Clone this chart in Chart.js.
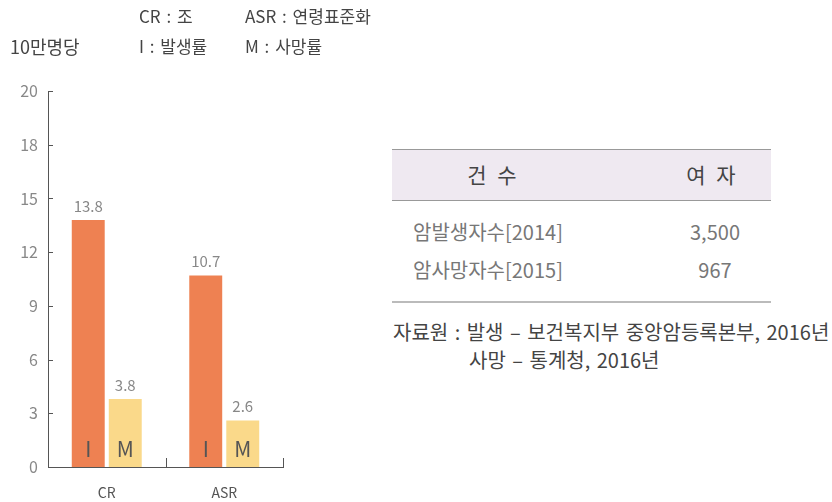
<!DOCTYPE html>
<html>
<head>
<meta charset="utf-8">
<script src="https://cdn.jsdelivr.net/npm/chart.js@4.4.0/dist/chart.umd.min.js"></script>
<style>
  body { margin: 0; background: #fff; font-family: "Noto Sans CJK KR", sans-serif; }
  #wrap { position: relative; width: 832px; height: 502px; overflow: hidden; }
  .t { position: absolute; white-space: nowrap; line-height: 1; }
  .hdr { position: absolute; left: 392px; top: 149px; width: 379px; height: 50px;
         background: #efe9f1; border-top: 1px solid #999; border-bottom: 1px solid #999; }
  .bot { position: absolute; left: 392px; top: 301px; width: 379px; height: 0; border-top: 2px solid #bbb; }
</style>
</head>
<body>
<div id="wrap">
  <canvas id="chart" width="300" height="502" style="position:absolute;left:0;top:0"></canvas>

  <div class="t" style="left:10px;top:37px;font-size:18px;color:#444">10만명당</div>
  <div class="t" style="left:139px;top:7px;font-size:17px;color:#444;word-spacing:2px">CR : 조</div>
  <div class="t" style="left:245px;top:7px;font-size:17px;color:#444;word-spacing:2px">ASR : 연령표준화</div>
  <div class="t" style="left:139px;top:37px;font-size:17px;color:#444;word-spacing:2px">I : 발생률</div>
  <div class="t" style="left:245px;top:37px;font-size:17px;color:#444;word-spacing:2px">M : 사망률</div>

  <div class="hdr"></div>
  <div class="t" style="left:442px;top:164px;width:100px;text-align:center;font-size:21px;color:#444;word-spacing:6px">건 수</div>
  <div class="t" style="left:661px;top:164px;width:100px;text-align:center;font-size:21px;color:#444;word-spacing:6px">여 자</div>
  <div class="t" style="left:413px;top:222px;font-size:20px;color:#777">암발생자수[2014]</div>
  <div class="t" style="left:665px;top:222px;width:100px;text-align:center;font-size:20px;color:#777">3,500</div>
  <div class="t" style="left:413px;top:260px;font-size:20px;color:#777">암사망자수[2015]</div>
  <div class="t" style="left:665px;top:260px;width:100px;text-align:center;font-size:20px;color:#777">967</div>
  <div class="bot"></div>

  <div class="t" style="left:393px;top:322px;font-size:20px;color:#444;word-spacing:2px">자료원 : 발생 – 보건복지부 중앙암등록본부, 2016년</div>
  <div class="t" style="left:469px;top:350px;font-size:20px;color:#444;word-spacing:2px">사망 – 통계청, 2016년</div>
</div>

<script>
const categories = ["CR", "ASR"];
const incidence = [13.8, 10.7];   // I : 발생률
const mortality = [3.8, 2.6];     // M : 사망률
const tickLabels = ["0", "3", "6", "9", "12", "15", "18", "20"];

const FONT = '"Noto Sans CJK KR", sans-serif';

// inner ticks on the axes, value labels above bars, I / M letters inside bars
const decor = {
  id: "decor",
  afterDatasetsDraw(chart) {
    const { ctx, chartArea, scales } = chart;
    const x = scales.x, y = scales.y;
    ctx.save();
    ctx.strokeStyle = "#555";
    ctx.lineWidth = 1;
    y.ticks.forEach((t, i) => {
      if (i === 0) return;
      const py = Math.round(y.getPixelForTick(i)) + 0.5;
      ctx.beginPath();
      ctx.moveTo(chartArea.left, py);
      ctx.lineTo(chartArea.left + 5, py);
      ctx.stroke();
    });
    for (let i = 1; i <= categories.length; i++) {
      const px = Math.round(x.getPixelForValue(i - 0.5)) + 0.5;
      ctx.beginPath();
      ctx.moveTo(px, chartArea.bottom);
      ctx.lineTo(px, chartArea.bottom - 9);
      ctx.stroke();
    }

    ctx.textAlign = "center";
    ctx.textBaseline = "middle";
    chart.data.datasets.forEach((ds, di) => {
      const meta = chart.getDatasetMeta(di);
      meta.data.forEach((bar, i) => {
        ctx.fillStyle = "#888";
        ctx.font = "15px " + FONT;
        ctx.fillText(ds.data[i].toFixed(1), bar.x, bar.y - 14);
        ctx.fillStyle = "#555";
        ctx.font = "21px " + FONT;
        ctx.fillText(ds.label, bar.x, chartArea.bottom - 18);
      });
    });
    ctx.restore();
  }
};

new Chart(document.getElementById("chart"), {
  type: "bar",
  data: {
    labels: categories,
    datasets: [
      {
        label: "I",
        data: incidence,
        backgroundColor: "#ee8152",
        categoryPercentage: 0.63,
        barPercentage: 0.89,
      },
      {
        label: "M",
        data: mortality,
        backgroundColor: "#fad98a",
        categoryPercentage: 0.63,
        barPercentage: 0.89,
      },
    ],
  },
  options: {
    responsive: false,
    animation: false,
    layout: { padding: { top: 91, right: 17, left: 0, bottom: 0 } },
    plugins: {
      legend: { display: false },
      tooltip: { enabled: false },
    },
    scales: {
      x: {
        grid: { display: false },
        border: { display: true, color: "#555", width: 1 },
        ticks: { color: "#555", font: { family: FONT, size: 14 }, padding: 9 },
        afterFit(scale) { scale.height = 35; },
      },
      y: {
        min: 0,
        max: (tickLabels.length - 1) * 3,
        grid: { display: false, drawTicks: false },
        border: { display: true, color: "#555", width: 1 },
        ticks: {
          stepSize: 3,
          color: "#888",
          padding: 10,
          font: { family: FONT, size: 16 },
          callback: (v, i) => tickLabels[i],
        },
        afterFit(scale) { scale.width = 48; },
      },
    },
  },
  plugins: [decor],
});
</script>
</body>
</html>
